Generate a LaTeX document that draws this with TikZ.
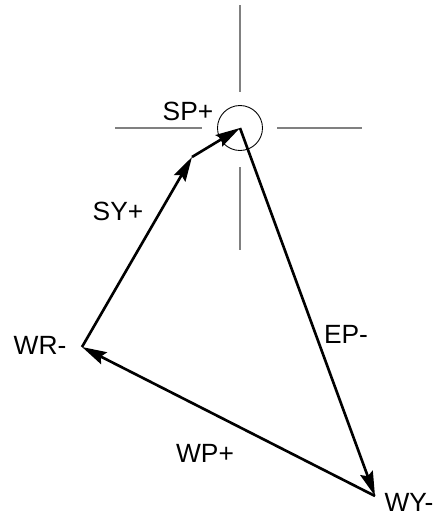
\documentclass[tikz,border=0pt]{standalone}
\usepackage{fontspec}
\setmainfont{Liberation Sans}
\usetikzlibrary{arrows.meta}

\begin{document}
\begin{tikzpicture}[x=0.02cm, y=-0.02cm,
        axis/.style={gray, line width=0.6pt},
        vec/.style={line width=1.5pt, -{Stealth[length=14pt, width=7.5pt, inset=2pt]}},
        lbl/.style={font=\fontsize{15}{18}\selectfont}]

        \useasboundingbox (0,0) rectangle (435,518);

        % Puntos del recorrido
        \coordinate (sp) at (240,128);
        \coordinate (kink) at (192,157);
        \coordinate (wr) at (82,347);
        \coordinate (wy) at (375,496);

        % Cruz y circulo de referencia
        \draw[axis] (240,5) -- (240,92);
        \draw[axis] (240,167) -- (240,250);
        \draw[axis] (115,128) -- (202,128);
        \draw[axis] (277,128) -- (362,128);
        \node (ring) [circle, draw, line width=0.5pt, minimum size=0.9cm, inner sep=0pt] at (sp) {};

        % Etiquetas
        \node (splbl) [lbl] at (188,111) {SP+};
        \node (sylbl) [lbl] at (118,211) {SY+};
        \node (wrlbl) [lbl] at (40,345) {WR-};
        \node (eplbl) [lbl] at (346,334) {EP-};
        \node (wplbl) [lbl] at (205,453) {WP+};
        \node (wylbl) [lbl] at (409,502) {WY-};

        % Vectores
        \draw[vec] (wr) -- (kink);
        \draw[vec] (kink) -- (sp);
        \draw[vec] (sp) -- (wy);
        \draw[vec] (wy) -- (wr);

\end{tikzpicture}
\end{document}
